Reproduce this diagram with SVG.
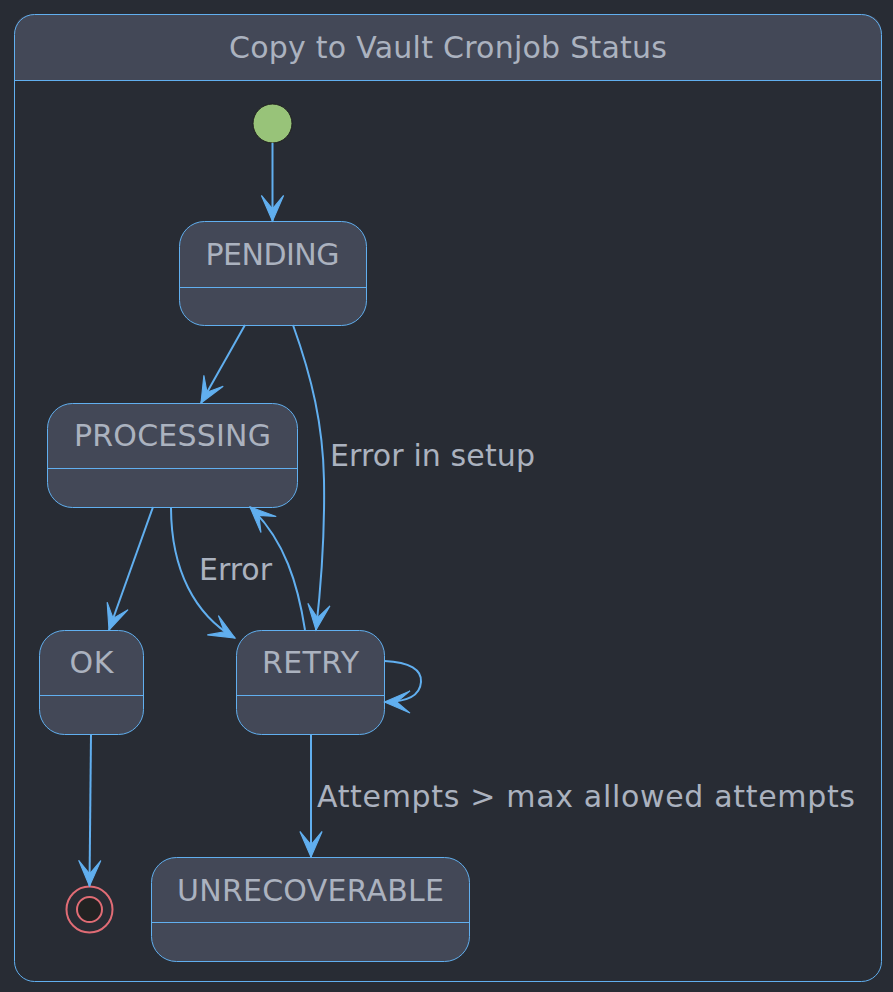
<svg xmlns="http://www.w3.org/2000/svg" width="893" height="992" viewBox="0 0 893 992">
<style>
.bg{fill:#282c34}
.node{fill:#434857;stroke:#61afef;stroke-width:1}
.div{stroke:#61afef;stroke-width:1}
.t{font-family:"DejaVu Sans",sans-serif;font-size:30px;fill:#abb2bf}
.mid{text-anchor:middle}
.edge{fill:none;stroke:#61afef;stroke-width:2}
</style>
<defs>
<marker id="arr" markerUnits="userSpaceOnUse" markerWidth="30" markerHeight="30" viewBox="-25 -12 27 24" refX="0" refY="0" orient="auto">
<path d="M0,0 L-23,-10 L-11,0 L-23,10 Z" fill="#61afef" stroke="#61afef" stroke-width="1"/>
</marker>
</defs>
<rect class="bg" x="0" y="0" width="893" height="992"/>
<g id="container">
<path d="M14.5,80.5 L14.5,34.5 Q14.5,14.5 34.5,14.5 L861.5,14.5 Q881.5,14.5 881.5,34.5 L881.5,80.5 Z" fill="#434857"/>
<rect x="14.5" y="14.5" width="867" height="967" rx="20" ry="20" fill="none" stroke="#61afef" stroke-width="1"/>
<line class="div" x1="14.5" y1="80.5" x2="881.5" y2="80.5"/>
<text class="t mid" x="448" y="58" textLength="438" lengthAdjust="spacing">Copy to Vault Cronjob Status</text>
</g>
<g id="start">
<circle cx="272.5" cy="123.5" r="19.5" fill="#98c379" stroke="#1e1e1e" stroke-width="1"/>
</g>
<g id="PENDING">
<rect class="node" x="179.5" y="221.5" width="187" height="104" rx="25" ry="25"/>
<line class="div" x1="179.5" y1="287.5" x2="366.5" y2="287.5"/>
<text class="t mid" x="272.5" y="265" textLength="134" lengthAdjust="spacing">PENDING</text>
</g>
<g id="PROCESSING">
<rect class="node" x="47.5" y="403.5" width="250" height="104" rx="25" ry="25"/>
<line class="div" x1="47.5" y1="468.5" x2="297.5" y2="468.5"/>
<text class="t mid" x="172.5" y="446" textLength="197" lengthAdjust="spacing">PROCESSING</text>
</g>
<g id="OK">
<rect class="node" x="39.5" y="630.5" width="104" height="104" rx="25" ry="25"/>
<line class="div" x1="39.5" y1="695.5" x2="143.5" y2="695.5"/>
<text class="t mid" x="91.5" y="673" textLength="44" lengthAdjust="spacing">OK</text>
</g>
<g id="RETRY">
<rect class="node" x="236.5" y="630.5" width="148" height="104" rx="25" ry="25"/>
<line class="div" x1="236.5" y1="695.5" x2="384.5" y2="695.5"/>
<text class="t mid" x="310.5" y="673" textLength="97" lengthAdjust="spacing">RETRY</text>
</g>
<g id="UNRECOVERABLE">
<rect class="node" x="151.5" y="857.5" width="318" height="104" rx="25" ry="25"/>
<line class="div" x1="151.5" y1="922.5" x2="469.5" y2="922.5"/>
<text class="t mid" x="310.5" y="901" textLength="267" lengthAdjust="spacing">UNRECOVERABLE</text>
</g>
<g id="end">
<circle cx="89.5" cy="909.5" r="23" fill="none" stroke="#e06c75" stroke-width="2"/>
<circle cx="89.5" cy="909.5" r="12.5" fill="#222222" stroke="#e06c75" stroke-width="2"/>
</g>
<g id="connectors">
<path class="edge" d="M272.5,143 L272.5,221" marker-end="url(#arr)"/>
<path class="edge" d="M245,325 L201,403" marker-end="url(#arr)"/>
<path class="edge" d="M293,325 C312,378 323,425 324,480 C325,540 320,595 316,630" marker-end="url(#arr)"/>
<text class="t" x="330" y="466" textLength="205" lengthAdjust="spacing">Error in setup</text>
<path class="edge" d="M153,507 L109,630" marker-end="url(#arr)"/>
<path class="edge" d="M171,507 C171,570 195,615 235,638" marker-end="url(#arr)"/>
<text class="t" x="199" y="580" textLength="73" lengthAdjust="spacing">Error</text>
<path class="edge" d="M305,630 C298,585 285,540 250,507" marker-end="url(#arr)"/>
<path class="edge" d="M384.5,661 C410,662 422,670 421,682 C420,697 405,702 384.5,702" marker-end="url(#arr)"/>
<path class="edge" d="M91,734 L89.5,886" marker-end="url(#arr)"/>
<path class="edge" d="M311,734 L311,857" marker-end="url(#arr)"/>
<text class="t" x="317" y="807" textLength="538" lengthAdjust="spacing">Attempts &gt; max allowed attempts</text>
</g>
</svg>
